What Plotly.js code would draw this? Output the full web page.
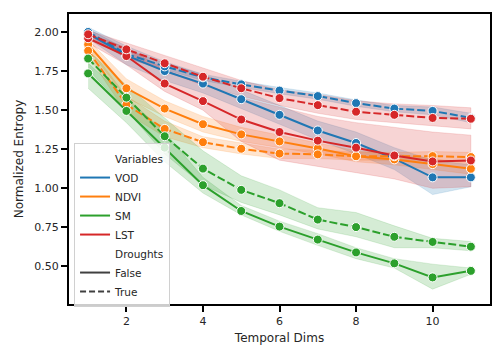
<!DOCTYPE html>
<html>
<head>
<meta charset="utf-8">
<script src="https://cdn.plot.ly/plotly-3.0.1.min.js"></script>
<style>
  html, body { margin: 0; padding: 0; background: #fff; }
  #plot { width: 504px; height: 360px; }
</style>
</head>
<body>
<div id="plot"></div>
<script>
// temporal dims on the x axis
var dims = [1, 2, 3, 4, 5, 6, 7, 8, 9, 10, 11];

// VOD
var vodF   = [1.99, 1.85, 1.75, 1.67, 1.57, 1.47, 1.37, 1.29, 1.19, 1.07, 1.07];
var vodFlo = [1.96, 1.79, 1.69, 1.61, 1.51, 1.41, 1.31, 1.22, 1.12, 0.96, 1.01];
var vodFhi = [2.03, 1.91, 1.81, 1.73, 1.63, 1.53, 1.43, 1.36, 1.26, 1.18, 1.15];
var vodT   = [2.00, 1.86, 1.78, 1.71, 1.665, 1.625, 1.59, 1.545, 1.51, 1.495, 1.45];
var vodTlo = [1.98, 1.83, 1.76, 1.69, 1.645, 1.605, 1.57, 1.525, 1.49, 1.47, 1.42];
var vodThi = [2.02, 1.89, 1.80, 1.73, 1.685, 1.645, 1.61, 1.565, 1.53, 1.52, 1.48];

// NDVI
var ndviF   = [1.92, 1.64, 1.51, 1.41, 1.345, 1.30, 1.255, 1.205, 1.185, 1.155, 1.125];
var ndviFlo = [1.89, 1.58, 1.46, 1.36, 1.30, 1.26, 1.22, 1.17, 1.15, 1.12, 1.09];
var ndviFhi = [1.95, 1.70, 1.56, 1.46, 1.39, 1.34, 1.29, 1.24, 1.22, 1.19, 1.16];
var ndviT   = [1.88, 1.535, 1.38, 1.295, 1.253, 1.222, 1.217, 1.205, 1.205, 1.206, 1.20];
var ndviTlo = [1.85, 1.48, 1.33, 1.26, 1.22, 1.19, 1.19, 1.18, 1.18, 1.18, 1.17];
var ndviThi = [1.91, 1.59, 1.43, 1.33, 1.29, 1.25, 1.245, 1.23, 1.23, 1.235, 1.23];

// SM
var smF   = [1.735, 1.495, 1.26, 1.02, 0.855, 0.755, 0.672, 0.59, 0.52, 0.43, 0.472];
var smFlo = [1.64, 1.42, 1.17, 0.97, 0.83, 0.725, 0.635, 0.55, 0.49, 0.355, 0.45];
var smFhi = [1.80, 1.58, 1.36, 1.07, 0.89, 0.79, 0.71, 0.62, 0.55, 0.515, 0.49];
var smT   = [1.83, 1.58, 1.333, 1.126, 0.99, 0.905, 0.80, 0.752, 0.69, 0.657, 0.627];
var smTlo = [1.76, 1.50, 1.22, 1.02, 0.91, 0.83, 0.74, 0.69, 0.62, 0.62, 0.60];
var smThi = [1.88, 1.66, 1.45, 1.24, 1.08, 0.99, 0.876, 0.845, 0.76, 0.68, 0.66];

// LST
var lstF   = [1.96, 1.846, 1.67, 1.558, 1.44, 1.36, 1.305, 1.26, 1.21, 1.172, 1.178];
var lstFlo = [1.93, 1.79, 1.62, 1.50, 1.30, 1.18, 1.14, 1.10, 1.06, 1.00, 1.01];
var lstFhi = [1.99, 1.90, 1.76, 1.66, 1.58, 1.52, 1.46, 1.42, 1.39, 1.36, 1.34];
var lstT   = [1.985, 1.889, 1.80, 1.714, 1.64, 1.577, 1.532, 1.49, 1.47, 1.45, 1.445];
var lstTlo = [1.96, 1.84, 1.75, 1.66, 1.59, 1.53, 1.48, 1.44, 1.42, 1.40, 1.38];
var lstThi = [2.01, 1.93, 1.85, 1.77, 1.69, 1.63, 1.60, 1.56, 1.54, 1.53, 1.515];

var variables = ['VOD', 'NDVI', 'SM', 'LST'];
var droughts = ['False', 'True'];
var colors = { VOD: '31,119,180', NDVI: '255,127,14', SM: '44,160,44', LST: '214,39,40' };

var series = [
    { v: 'VOD',  d: 'False', y: vodF,  lo: vodFlo,  hi: vodFhi },
    { v: 'VOD',  d: 'True',  y: vodT,  lo: vodTlo,  hi: vodThi },
    { v: 'NDVI', d: 'False', y: ndviF, lo: ndviFlo, hi: ndviFhi },
    { v: 'NDVI', d: 'True',  y: ndviT, lo: ndviTlo, hi: ndviThi },
    { v: 'SM',   d: 'False', y: smF,   lo: smFlo,   hi: smFhi },
    { v: 'SM',   d: 'True',  y: smT,   lo: smTlo,   hi: smThi },
    { v: 'LST',  d: 'False', y: lstF,  lo: lstFlo,  hi: lstFhi },
    { v: 'LST',  d: 'True',  y: lstT,  lo: lstTlo,  hi: lstThi }
];

var traces = [];

// confidence bands first so they sit under every line
series.forEach(function (s) {
    var rgb = colors[s.v];
    traces.push({
        x: dims.concat(dims.slice().reverse()),
        y: s.hi.concat(s.lo.slice().reverse()),
        type: 'scatter',
        mode: 'lines',
        fill: 'toself',
        fillcolor: 'rgba(' + rgb + ',0.2)',
        line: { color: 'rgba(' + rgb + ',0.15)', width: 1 },
        showlegend: false,
        hoverinfo: 'skip'
    });
});

series.forEach(function (s) {
    var rgb = colors[s.v];
    traces.push({
        x: dims,
        y: s.y,
        type: 'scatter',
        mode: 'lines+markers',
        line: { color: 'rgb(' + rgb + ')', width: 2, dash: s.d === 'True' ? '8px,3px' : 'solid' },
        marker: { size: 9, color: 'rgb(' + rgb + ')', line: { color: 'white', width: 1 } },
        showlegend: false
    });
});

// legend entries, seaborn style with sub headings
function legendItem(name, color, dash) {
    return {
        x: [null], y: [null],
        type: 'scatter',
        mode: 'lines',
        name: name,
        line: { color: color, width: 2, dash: dash || 'solid' },
        showlegend: true
    };
}
traces.push(legendItem('Variables', 'rgba(0,0,0,0)'));
variables.forEach(function (v) {
    traces.push(legendItem(v, 'rgb(' + colors[v] + ')'));
});
traces.push(legendItem('Droughts', 'rgba(0,0,0,0)'));
traces.push(legendItem(droughts[0], '#404040'));
traces.push(legendItem(droughts[1], '#404040', '6px,3px'));

var layout = {
    width: 504,
    height: 360,
    margin: { l: 69, r: 14, t: 14, b: 56 },
    paper_bgcolor: 'white',
    plot_bgcolor: 'white',
    font: { family: 'DejaVu Sans', size: 11, color: '#262626' },
    showlegend: true,
    legend: {
        x: 0.012, y: 0.555,
        xanchor: 'left', yanchor: 'top',
        bgcolor: 'rgba(255,255,255,0.8)',
        bordercolor: '#d0d0d0',
        borderwidth: 1,
        font: { family: 'DejaVu Sans', size: 10.5, color: '#262626' },
        tracegroupgap: 0
    },
    xaxis: {
        range: [0.5, 11.5],
        tickvals: [2, 4, 6, 8, 10],
        ticks: 'outside',
        ticklen: 6,
        tickwidth: 2,
        tickcolor: 'black',
        showline: true,
        linecolor: 'black',
        linewidth: 2,
        mirror: true,
        showgrid: false,
        zeroline: false,
        title: { text: 'Temporal Dims', font: { size: 12 }, standoff: 6 }
    },
    yaxis: {
        range: [0.26, 2.115],
        tickvals: [0.5, 0.75, 1.0, 1.25, 1.5, 1.75, 2.0],
        tickformat: '.2f',
        ticks: 'outside',
        ticklen: 6,
        tickwidth: 2,
        tickcolor: 'black',
        showline: true,
        linecolor: 'black',
        linewidth: 2,
        mirror: true,
        showgrid: false,
        zeroline: false,
        title: { text: 'Normalized Entropy', font: { size: 12 }, standoff: 8 }
    }
};

var plotElement = document.getElementById('plot');
if (plotElement) {
    Plotly.newPlot('plot', traces, layout, { displayModeBar: false, staticPlot: true });
} else {
    console.error("No DOM element with id 'plot' exists on the page.");
}
</script>
</body>
</html>
